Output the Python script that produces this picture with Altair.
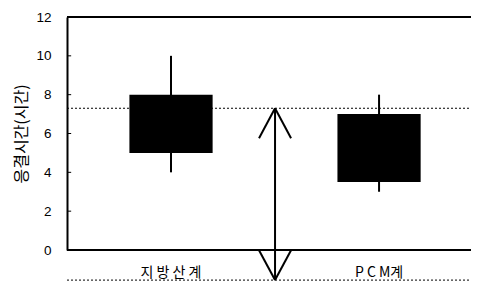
import altair as alt
import pandas as pd

# ---- data ----
categories = ["지방산계", "PCM계"]
label_text = ["지  방  산  계", "P C M계"]
positions = [1, 2]
box_low = [5.0, 3.5]
box_high = [8.0, 7.0]
whisker_low = [4.0, 3.0]
whisker_high = [10.0, 8.0]
box_half = 0.2
ref_levels = [7.3, -1.55]
label_level = -1.2
arrow_x = 1.5
arrow_top = 7.3
arrow_bottom = -1.55
head_dx = 0.077
head_dy = 1.54
y_ticks = [0, 2, 4, 6, 8, 10, 12]
x_min, x_max = 0.5, 2.442
y_min, y_max = 0, 12

FONT_NUM = "Liberation Sans"
FONT_KR = "Noto Sans CJK KR"

xs = alt.Scale(domain=[x_min, x_max], nice=False, zero=False)
ys = alt.Scale(domain=[y_min, y_max], nice=False, zero=False)

y_axis = alt.Axis(
    values=y_ticks, title="응결시간(시간)", grid=False, ticks=False,
    domain=True, domainColor="black", domainWidth=2,
    labelFont=FONT_NUM, labelFontSize=13.5, labelColor="black", labelPadding=16,
    titleFont=FONT_KR, titleFontSize=16, titleFontWeight="normal",
    titleColor="black", titlePadding=6)

def X(f):
    return alt.X(f, type="quantitative", scale=xs, axis=None)

def Y(f):
    return alt.Y(f, type="quantitative", scale=ys, axis=y_axis)

boxes = pd.DataFrame({
    "cat": categories,
    "x0": [p - box_half for p in positions],
    "x1": [p + box_half for p in positions],
    "lo": box_low, "hi": box_high,
    "pos": positions, "wl": whisker_low, "wh": whisker_high,
    "lab": label_text, "ly": [label_level] * 2,
})

ticks_df = pd.DataFrame({"v": y_ticks, "x0": [x_min] * len(y_ticks),
                         "x1": [x_min + 0.02] * len(y_ticks)})

inner_ticks = alt.Chart(ticks_df).mark_rule(color="black", strokeWidth=1).encode(
    x=X("x0:Q"), x2="x1:Q", y=Y("v:Q"))

frame_df = pd.DataFrame({"y": [y_min, y_max], "x0": [x_min] * 2, "x1": [x_max] * 2})
frame = alt.Chart(frame_df).mark_rule(color="black", strokeWidth=2).encode(
    x=X("x0:Q"), x2="x1:Q", y=Y("y:Q"))

ref_df = pd.DataFrame({"y": ref_levels, "x0": [x_min] * 2, "x1": [x_max] * 2})
refs = alt.Chart(ref_df).mark_rule(color="black", strokeWidth=1, strokeDash=[2, 2]).encode(
    x=X("x0:Q"), x2="x1:Q", y=Y("y:Q"))

whisk = alt.Chart(boxes).mark_rule(color="black", strokeWidth=2).encode(
    x=X("pos:Q"), y=Y("wl:Q"), y2="wh:Q")

rects = alt.Chart(boxes).mark_rect(color="black").encode(
    x=X("x0:Q"), x2="x1:Q", y=Y("lo:Q"), y2="hi:Q")

labels = alt.Chart(boxes).mark_text(font=FONT_KR, fontSize=14, color="black",
                                    baseline="middle", align="center").encode(
    x=X("pos:Q"), y=Y("ly:Q"), text="lab:N")

arrow_df = pd.DataFrame({
    "x0": [arrow_x, arrow_x, arrow_x, arrow_x, arrow_x],
    "x1": [arrow_x, arrow_x - head_dx, arrow_x + head_dx, arrow_x - head_dx, arrow_x + head_dx],
    "y0": [arrow_bottom, arrow_top, arrow_top, arrow_bottom, arrow_bottom],
    "y1": [arrow_top, arrow_top - head_dy, arrow_top - head_dy, arrow_bottom + head_dy, arrow_bottom + head_dy],
})
arrow = alt.Chart(arrow_df).mark_rule(color="black", strokeWidth=2).encode(
    x=X("x0:Q"), x2="x1:Q", y=Y("y0:Q"), y2="y1:Q")

chart = alt.layer(inner_ticks, frame, refs, whisk, rects, arrow, labels).properties(
    width=404, height=233,
    autosize=alt.AutoSizeParams(type="none"),
    padding={"left": 59, "top": 9, "right": 0, "bottom": 31},
).configure_view(stroke=None).configure(background="white")

chart.save("out.html", embed_options={"renderer": "svg", "actions": False})
